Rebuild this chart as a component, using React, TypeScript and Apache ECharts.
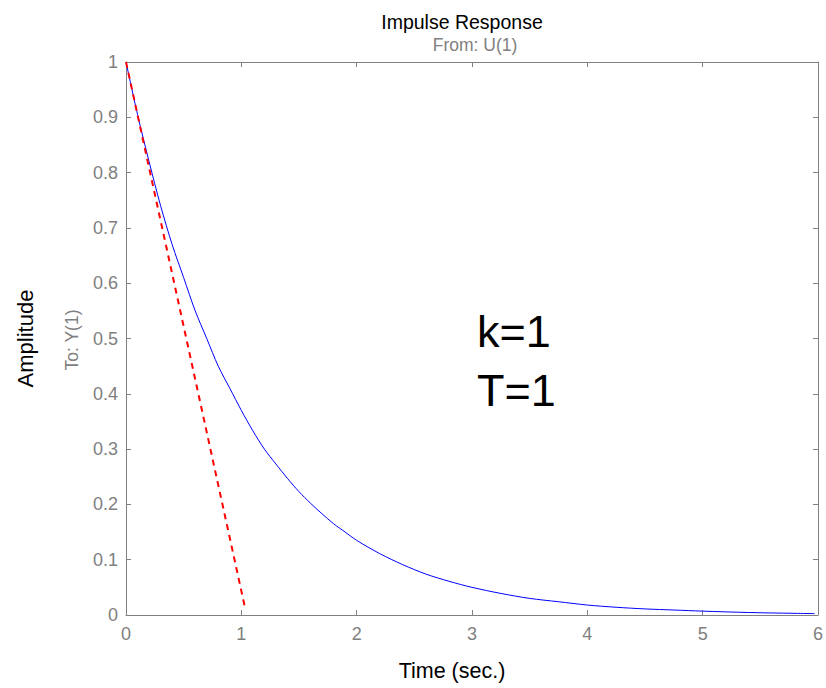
import React, { useEffect, useRef } from "react";
import * as echarts from "echarts";

// Impulse response
const timeValues = [0, 0.1, 0.2, 0.3, 0.4, 0.5, 0.6, 0.7, 0.8, 0.9, 1.0, 1.1, 1.2, 1.3, 1.4, 1.5, 1.6, 1.7, 1.8, 1.9, 2.0, 2.2, 2.4, 2.6, 2.8, 3.0, 3.25, 3.5, 3.75, 4.0, 4.25, 4.5, 4.75, 5.0, 5.4, 5.8, 5.97];
const amplitudeValues = [1.0, 0.905, 0.82, 0.74, 0.67, 0.61, 0.55, 0.5, 0.45, 0.41, 0.37, 0.333, 0.3, 0.273, 0.247, 0.223, 0.202, 0.183, 0.165, 0.15, 0.135, 0.111, 0.091, 0.074, 0.061, 0.05, 0.039, 0.03, 0.024, 0.018, 0.014, 0.011, 0.009, 0.007, 0.0045, 0.003, 0.0025];

// Tangent at t=0
const tangentTime = [0, 1.03];
const tangentValues = [1.0, 0.015];

const xTicks = [0, 1, 2, 3, 4, 5, 6];
const yTickStep = 0.1;

const annotations = ["k=1", "T=1"];

const GRAY = "#808080";
const FONT = "'Liberation Sans', Arial, sans-serif";

export default function App() {
  const ref = useRef<HTMLDivElement>(null);
  useEffect(() => {
    if (!ref.current) return;
    const chart = echarts.init(ref.current, null, { renderer: "svg" });
    const axisLineStyle = { lineStyle: { color: GRAY, width: 1 } };
    const tick = { show: true, inside: true, length: 5, lineStyle: { color: GRAY } };
    chart.setOption({
      animation: false,
      backgroundColor: "#ffffff",
      textStyle: { fontFamily: FONT },
      title: [
        {
          text: "Impulse Response",
          left: 457,
          textAlign: "center",
          top: 7,
          textStyle: { color: "#000", fontSize: 19.5, fontWeight: "normal", fontFamily: FONT },
        },
        {
          text: "From: U(1)",
          left: 470,
          textAlign: "center",
          top: 31,
          textStyle: { color: GRAY, fontSize: 17.5, fontWeight: "normal", fontFamily: FONT },
        },
      ],
      grid: { left: 126, right: 7, top: 62, bottom: 73, containLabel: false },
      xAxis: [
        {
          type: "value",
          min: xTicks[0],
          max: xTicks[xTicks.length - 1],
          interval: 1,
          position: "bottom",
          axisLine: { show: true, ...axisLineStyle },
          axisTick: tick,
          axisLabel: { color: GRAY, fontSize: 18, margin: 10, fontFamily: FONT, showMaxLabel: true },
          splitLine: { show: false },
          name: "Time (sec.)",
          nameLocation: "middle",
          nameGap: 45,
          nameTextStyle: { color: "#000", fontSize: 21.5, fontFamily: FONT, padding: [0, 40, 0, 0] },
        },
        {
          type: "value",
          min: xTicks[0],
          max: xTicks[xTicks.length - 1],
          interval: 1,
          position: "top",
          axisLine: { show: true, onZero: false, ...axisLineStyle },
          axisTick: tick,
          axisLabel: { show: false },
          splitLine: { show: false },
        },
      ],
      yAxis: [
        {
          type: "value",
          min: 0,
          max: 1,
          interval: yTickStep,
          position: "left",
          axisLine: { show: true, onZero: false, ...axisLineStyle },
          axisTick: tick,
          axisLabel: {
            color: GRAY,
            fontSize: 18,
            margin: 8,
            fontFamily: FONT,
            formatter: (v: number) => (Math.round(v * 10) / 10).toString(),
          },
          splitLine: { show: false },
          name: "Amplitude",
          nameLocation: "middle",
          nameGap: 90,
          nameTextStyle: { color: "#000", fontSize: 22, fontFamily: FONT },
        },
        {
          type: "value",
          min: 0,
          max: 1,
          interval: yTickStep,
          position: "right",
          axisLine: { show: true, onZero: false, ...axisLineStyle },
          axisTick: tick,
          axisLabel: { show: false },
          splitLine: { show: false },
        },
      ],
      graphic: [
        {
          type: "text",
          x: 72,
          y: 340,
          rotation: Math.PI / 2,
          style: {
            text: "To: Y(1)",
            fill: GRAY,
            font: `17.5px ${FONT}`,
            align: "center",
            verticalAlign: "middle",
          },
        },
        {
          type: "text",
          x: 477,
          y: 331,
          style: {
            text: annotations[0],
            fill: "#000",
            font: `45px ${FONT}`,
            align: "left",
            verticalAlign: "middle",
          },
        },
        {
          type: "text",
          x: 477,
          y: 390,
          style: {
            text: annotations[1],
            fill: "#000",
            font: `45px ${FONT}`,
            align: "left",
            verticalAlign: "middle",
          },
        },
      ],
      series: [
        {
          type: "line",
          data: timeValues.map((t, i) => [t, amplitudeValues[i]]),
          smooth: 0.3,
          showSymbol: false,
          symbol: "none",
          lineStyle: { color: "#0000ff", width: 1 },
          z: 2,
        },
        {
          type: "line",
          data: tangentTime.map((t, i) => [t, tangentValues[i]]),
          showSymbol: false,
          symbol: "none",
          lineStyle: { color: "#ff0000", width: 2, type: [6, 5] },
          z: 3,
        },
      ],
    });
    return () => chart.dispose();
  }, []);
  return (
    <div
      ref={ref}
      style={{ position: "absolute", left: 0, top: 0, width: 826, height: 688 }}
    />
  );
}
